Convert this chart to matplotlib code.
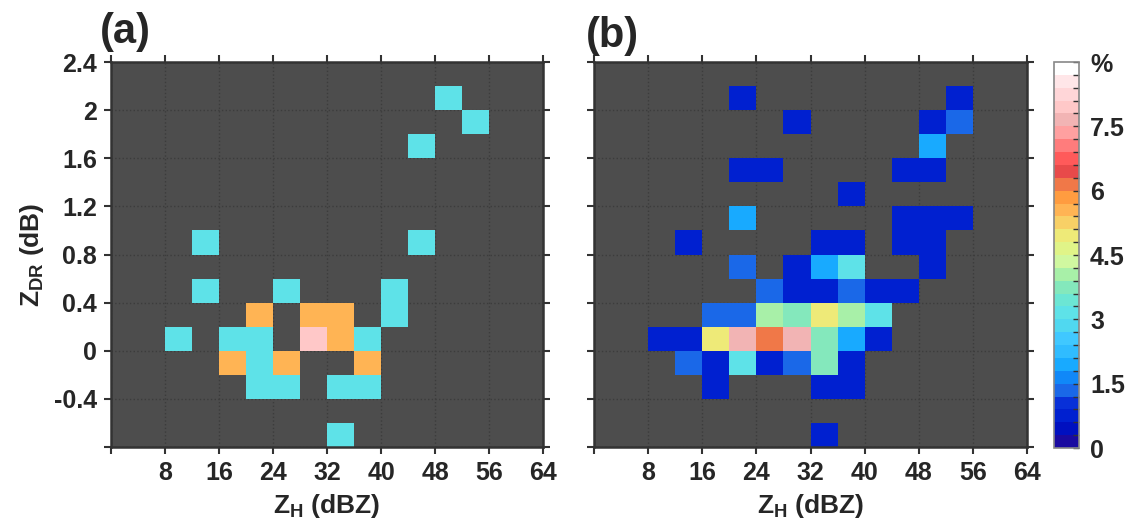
import matplotlib
matplotlib.use('Agg')
import matplotlib.pyplot as plt
import numpy as np
from matplotlib.colors import ListedColormap, BoundaryNorm

plt.rcParams['font.family'] = ['Liberation Sans', 'DejaVu Sans']
plt.rcParams['font.weight'] = 'bold'
plt.rcParams['mathtext.fontset'] = 'custom'
plt.rcParams['mathtext.rm'] = 'Liberation Sans:bold'
plt.rcParams['mathtext.it'] = 'Liberation Sans:italic:bold'
plt.rcParams['mathtext.bf'] = 'Liberation Sans:bold'

# bin edges of the 2D histogram
zh_edges = np.arange(0, 65, 4)
zdr_edges = np.round(np.arange(-0.8, 2.41, 0.2), 2)

# frequency (%) per bin, rows from top (ZDR 2.2-2.4) down to bottom (-0.8..-0.6), 0 = empty
freq_a = [
    [0, 0, 0, 0, 0, 0, 0, 0, 0, 0, 0, 0, 0, 0, 0, 0],
    [0, 0, 0, 0, 0, 0, 0, 0, 0, 0, 0, 0, 3.1, 0, 0, 0],
    [0, 0, 0, 0, 0, 0, 0, 0, 0, 0, 0, 0, 0, 3.1, 0, 0],
    [0, 0, 0, 0, 0, 0, 0, 0, 0, 0, 0, 3.1, 0, 0, 0, 0],
    [0, 0, 0, 0, 0, 0, 0, 0, 0, 0, 0, 0, 0, 0, 0, 0],
    [0, 0, 0, 0, 0, 0, 0, 0, 0, 0, 0, 0, 0, 0, 0, 0],
    [0, 0, 0, 0, 0, 0, 0, 0, 0, 0, 0, 0, 0, 0, 0, 0],
    [0, 0, 0, 3.1, 0, 0, 0, 0, 0, 0, 0, 3.1, 0, 0, 0, 0],
    [0, 0, 0, 0, 0, 0, 0, 0, 0, 0, 0, 0, 0, 0, 0, 0],
    [0, 0, 0, 3.1, 0, 0, 3.1, 0, 0, 0, 3.1, 0, 0, 0, 0, 0],
    [0, 0, 0, 0, 0, 5.5, 0, 5.5, 5.5, 0, 3.1, 0, 0, 0, 0, 0],
    [0, 0, 3.1, 0, 3.1, 3.1, 0, 7.9, 5.5, 3.1, 0, 0, 0, 0, 0, 0],
    [0, 0, 0, 0, 5.5, 3.1, 5.5, 0, 0, 5.5, 0, 0, 0, 0, 0, 0],
    [0, 0, 0, 0, 0, 3.1, 3.1, 0, 3.1, 3.1, 0, 0, 0, 0, 0, 0],
    [0, 0, 0, 0, 0, 0, 0, 0, 0, 0, 0, 0, 0, 0, 0, 0],
    [0, 0, 0, 0, 0, 0, 0, 0, 3.1, 0, 0, 0, 0, 0, 0, 0],
]

freq_b = [
    [0, 0, 0, 0, 0, 0, 0, 0, 0, 0, 0, 0, 0, 0, 0, 0],
    [0, 0, 0, 0, 0, 0.7, 0, 0, 0, 0, 0, 0, 0, 0.7, 0, 0],
    [0, 0, 0, 0, 0, 0, 0, 0.7, 0, 0, 0, 0, 0.7, 1.3, 0, 0],
    [0, 0, 0, 0, 0, 0, 0, 0, 0, 0, 0, 0, 1.9, 0, 0, 0],
    [0, 0, 0, 0, 0, 0.7, 0.7, 0, 0, 0, 0, 0.7, 0.7, 0, 0, 0],
    [0, 0, 0, 0, 0, 0, 0, 0, 0, 0.7, 0, 0, 0, 0, 0, 0],
    [0, 0, 0, 0, 0, 1.9, 0, 0, 0, 0, 0, 0.7, 0.7, 0.7, 0, 0],
    [0, 0, 0, 0.7, 0, 0, 0, 0, 0.7, 0.7, 0, 0.7, 0.7, 0, 0, 0],
    [0, 0, 0, 0, 0, 1.3, 0, 0.7, 1.9, 3.1, 0, 0, 0.7, 0, 0, 0],
    [0, 0, 0, 0, 0, 0, 1.3, 0.7, 0.7, 1.3, 0.7, 0.7, 0, 0, 0, 0],
    [0, 0, 0, 0, 1.3, 1.3, 4.0, 3.7, 4.9, 4.0, 3.1, 0, 0, 0, 0, 0],
    [0, 0, 0.7, 0.7, 4.9, 7.6, 6.1, 7.6, 3.7, 1.9, 0.7, 0, 0, 0, 0, 0],
    [0, 0, 0, 1.3, 0.7, 3.1, 0.7, 1.3, 3.7, 0.7, 0, 0, 0, 0, 0, 0],
    [0, 0, 0, 0, 0.7, 0, 0, 0, 0.7, 0.7, 0, 0, 0, 0, 0, 0],
    [0, 0, 0, 0, 0, 0, 0, 0, 0, 0, 0, 0, 0, 0, 0, 0],
    [0, 0, 0, 0, 0, 0, 0, 0, 0.7, 0, 0, 0, 0, 0, 0, 0],
]

# 30 discrete colour levels, 0 to 9 % in steps of 0.3
level_colors = ['#1a0aa0', '#0010c0', '#0020d0', '#0830d8', '#1a68e8', '#1088f8',
                '#18aaff', '#30bcff', '#40c8ff', '#50d8f0', '#5ee2e8', '#6ce6d4',
                '#84e8bc', '#a8f0a8', '#d0f8a0', '#e0f488', '#eeea78', '#f8d066',
                '#ffb454', '#ff9c40', '#f07848', '#e84a4a', '#ff5a5a', '#ff7c7c',
                '#ffa0a0', '#f2b4b4', '#ffc8c8', '#ffd6d8', '#ffe6e8', '#ffffff']
levels = np.round(np.arange(0, 9.01, 0.3), 2)
cbar_ticks = [0, 1.5, 3, 4.5, 6, 7.5, 9]
cbar_ticklabels = ['0', '1.5', '3', '4.5', '6', '7.5', '%']

cmap = ListedColormap(level_colors)
norm = BoundaryNorm(levels, cmap.N)

xticks = [0, 8, 16, 24, 32, 40, 48, 56, 64]
yticks = [-0.8, -0.4, 0, 0.4, 0.8, 1.2, 1.6, 2, 2.4]

W, H = 1125, 530
fig = plt.figure(figsize=(W / 100, H / 100), dpi=100)
ax_a = fig.add_axes([111 / W, 1 - 447 / H, 432 / W, 385 / H])
ax_b = fig.add_axes([594 / W, 1 - 447 / H, 433 / W, 385 / H])
cax = fig.add_axes([1054 / W, 1 - 448 / H, 25 / W, 386 / H])

edge = '#333333'
txt = '#262626'
for ax, data in [(ax_a, freq_a), (ax_b, freq_b)]:
    z = np.array(data, dtype=float)[::-1]
    z = np.ma.masked_where(z == 0, z)
    ax.set_facecolor('#4d4d4d')
    mesh = ax.pcolormesh(zh_edges, zdr_edges, z, cmap=cmap, norm=norm,
                         edgecolors='none', zorder=2)
    ax.set_xlim(0, 64)
    ax.set_ylim(-0.8, 2.4)
    ax.set_xticks(xticks)
    ax.set_yticks(yticks)
    ax.set_xticklabels(['' if t == 0 else str(t) for t in xticks])
    ax.set_yticklabels(['' if t == -0.8 else ('%g' % t) for t in yticks])
    ax.grid(True, linestyle=':', color='#3c3c3c', linewidth=1.0, zorder=1)
    ax.set_axisbelow(True)
    ax.tick_params(direction='out', length=5, width=1.5, colors=edge,
                   labelcolor=txt, labelsize=18,
                   top=True, right=True, pad=5)
    for s in ax.spines.values():
        s.set_color(edge)
        s.set_linewidth(1.8)
        s.set_zorder(5)
    ax.set_xlabel(r'$\mathrm{Z}_{\mathrm{H}}$ (dBZ)', fontsize=19,
                  fontweight='bold', color=txt, labelpad=5)

ax_b.tick_params(labelleft=False)
ax_a.set_ylabel(r'$\mathrm{Z}_{\mathrm{DR}}$ (dB)', fontsize=19,
                fontweight='bold', color=txt, labelpad=6)

cb = fig.colorbar(mesh, cax=cax, ticks=cbar_ticks)
cb.ax.set_yticklabels(cbar_ticklabels)
cb.ax.set_yticks(levels, minor=True)
cb.ax.tick_params(which='both', direction='in', length=4, width=1, colors=edge,
                  labelcolor=txt, labelsize=18, pad=8)
cb.outline.set_edgecolor('#888888')
cb.outline.set_linewidth(1.2)

fig.text(100 / W, 1 - 32 / H, '(a)', fontsize=30, fontweight='bold',
         color=txt, va='center', ha='left')
fig.text(586 / W, 1 - 36 / H, '(b)', fontsize=30, fontweight='bold',
         color=txt, va='center', ha='left')

fig.savefig('out.png', dpi=100)
